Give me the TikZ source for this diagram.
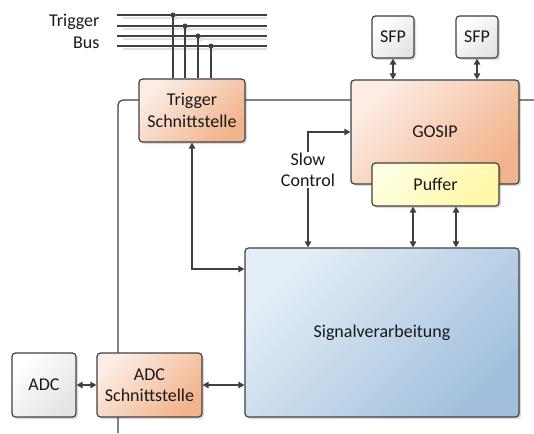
\documentclass[tikz,border=0pt]{standalone}
\usepackage{fontspec}
\setmainfont{Carlito}
\usetikzlibrary{arrows.meta,shadows,calc}

\definecolor{linec}{RGB}{64,64,64}
\definecolor{peachA}{RGB}{252,236,228}
\definecolor{peachB}{RGB}{242,180,140}
\definecolor{blueA}{RGB}{228,238,247}
\definecolor{blueB}{RGB}{162,192,221}
\definecolor{yelA}{RGB}{255,255,224}
\definecolor{yelB}{RGB}{255,247,165}
\definecolor{greyA}{RGB}{255,255,255}
\definecolor{greyB}{RGB}{228,228,228}

\tikzset{
  box/.style={draw=linec, line width=1.2pt, rounded corners=3.5pt, align=center,
    font=\fontsize{18}{21.5}\selectfont, text=black!90,
    drop shadow={shadow xshift=2pt, shadow yshift=-2pt, opacity=0.14, fill=black}},
  peach/.style={box, top color=peachA, middle color=peachA!65!peachB, bottom color=peachB, shading angle=45},
  bluebox/.style={box, top color=blueA, middle color=blueA!65!blueB, bottom color=blueB, shading angle=45},
  yelbox/.style={box, top color=yelA, middle color=yelA!60!yelB, bottom color=yelB, shading angle=45},
  greybox/.style={box, top color=greyA, bottom color=greyB, shading angle=45},
  conn/.style={draw=linec, line width=1.2pt},
  dbl/.style={conn, {Triangle[length=6pt,width=6.5pt]}-{Triangle[length=6pt,width=6.5pt]}},
  busline/.style={draw=linec, line width=1.3pt},
  busshadow/.style={draw=black!12, line width=1.3pt},
  tap/.style={circle, fill=linec, inner sep=0pt, minimum size=5pt},
  lbl/.style={font=\fontsize{18}{21.5}\selectfont, text=black!90, align=center},
}

\begin{document}
\begin{tikzpicture}[x=1pt,y=-1pt]
\useasboundingbox (0,0) rectangle (534,433);

% outer frame behind the blocks
\draw[conn, rounded corners=5pt] (534,100) -- (118,100) -- (118,433);

% trigger bus: shadows first, then the four lines
\foreach \yy in {15,26,36,46} {
  \draw[busshadow] (123,\yy+3) -- (267,\yy+3);
  \draw[busline] (117,\yy) -- (267,\yy);
}
\node[lbl, anchor=east] (tlbl) at (103,22) {Trigger};
\node[lbl, anchor=east] (blbl) at (103,43) {Bus};

% blocks
\node[peach, minimum width=106pt, minimum height=63pt] (trig) at (192,110.5) {Trigger\\Schnittstelle};
\node[peach, minimum width=168pt, minimum height=104pt] (gosip) at (435,132) {GOSIP};
\node[yelbox, minimum width=127pt, minimum height=43pt] (puf) at (435.5,184.5) {Puffer};
\node[greybox, minimum width=42pt, minimum height=42pt] (sfpa) at (393,37) {SFP};
\node[greybox, minimum width=42pt, minimum height=42pt] (sfpb) at (477,37) {SFP};
\node[bluebox, minimum width=274pt, minimum height=169pt] (sig) at (382,332.5) {Signalverarbeitung};
\node[greybox, minimum width=64pt, minimum height=64pt] (adc) at (44,385) {ADC};
\node[peach, minimum width=105pt, minimum height=64pt] (adcs) at (149.5,385) {ADC\\Schnittstelle};

% bus taps into the trigger interface
\foreach \xx/\yy [count=\i] in {173/15,185/26,198/36,211/46} {
  \fill[black!12] (\xx+2,\yy+3) circle (2.5pt);
  \node[tap] (tap\i) at (\xx,\yy) {};
  \draw[conn] (tap\i.center) -- (tap\i.center |- trig.north);
}

% SFP links
\draw[dbl] (sfpa.south) -- (sfpa.south |- gosip.north);
\draw[dbl] (sfpb.south) -- (sfpb.south |- gosip.north);

% buffer to signal processing
\coordinate (pa) at ($(puf.south)+(-22.5,0)$);
\coordinate (pb) at ($(puf.south)+(20.5,0)$);
\draw[dbl] (pa) -- (pa |- sig.north);
\draw[dbl] (pb) -- (pb |- sig.north);

% slow control
\coordinate (scbend) at (308,132);
\draw[dbl] (gosip.west) -- (scbend) -- (scbend |- sig.north);
\node[lbl, fill=white, inner sep=1pt] (sclbl) at (308,170) {Slow\\Control};

% trigger interface to signal processing
\coordinate (trbend) at (192,269);
\draw[dbl] (trig.south) -- (trbend) -- (trbend -| sig.west);

% ADC chain
\draw[dbl] (adc.east) -- (adcs.west);
\draw[dbl] (adcs.east) -- (adcs.east -| sig.west);
\end{tikzpicture}
\end{document}
